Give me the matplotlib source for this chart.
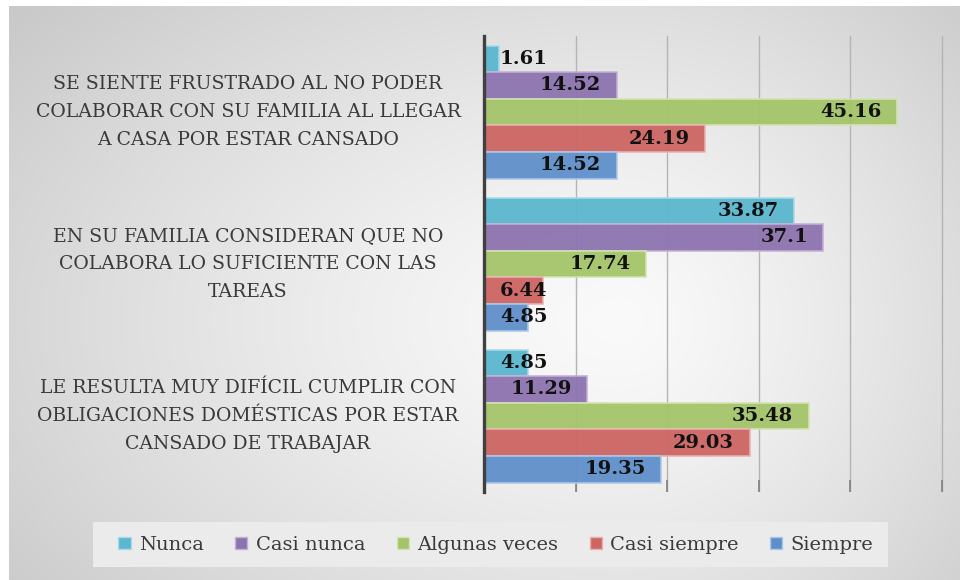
import numpy as np
import matplotlib
matplotlib.use('Agg')
import matplotlib.pyplot as plt
from matplotlib.patches import Patch, Rectangle
from matplotlib.transforms import blended_transform_factory

# 数据
categorias = [
    'SE SIENTE FRUSTRADO AL NO PODER\nCOLABORAR CON SU FAMILIA AL LLEGAR\nA CASA POR ESTAR CANSADO',
    'EN SU FAMILIA CONSIDERAN QUE NO\nCOLABORA LO SUFICIENTE CON LAS\nTAREAS',
    'LE RESULTA MUY DIFÍCIL CUMPLIR CON\nOBLIGACIONES DOMÉSTICAS POR ESTAR\nCANSADO DE TRABAJAR',
]
series = ['Nunca', 'Casi nunca', 'Algunas veces', 'Casi siempre', 'Siempre']
nunca = [1.61, 33.87, 4.85]
casi_nunca = [14.52, 37.1, 11.29]
algunas_veces = [45.16, 17.74, 35.48]
casi_siempre = [24.19, 6.44, 29.03]
siempre = [14.52, 4.85, 19.35]
valores = [nunca, casi_nunca, algunas_veces, casi_siempre, siempre]

colores = ['#5ab7cf', '#8d73af', '#a5c46a', '#cd6562', '#5f8fca']
bordes = ['#a9dbe8', '#c2b1d6', '#d3e4b4', '#e8b2b0', '#afc8e6']

W, H = 960, 580


def fondo(fig):
    """radial gray background"""
    bg = fig.add_axes([9 / W, 0, (W - 9) / W, (H - 6) / H], zorder=-10)
    ys, xs = np.mgrid[0:H - 6, 9:W]
    ys = ys + 6
    cx, cy = 620, 320
    sx = np.where(xs < cx, 650, 420)
    d = np.sqrt(((xs - cx) / sx) ** 2 + ((ys - cy) / 400) ** 2)
    v = 0.98 - 0.15 * np.clip(d, 0, 1.35) ** 1.3
    bg.imshow(np.dstack([v, v, v]), aspect='auto', interpolation='bilinear')
    bg.axis('off')


def main():
    fig = plt.figure(figsize=(W / 100, H / 100), dpi=100, facecolor='white')
    fondo(fig)

    x0, x1 = 484, 946
    y_top, y_bot = 36, 492
    ax = fig.add_axes([x0 / W, (H - y_bot) / H, (x1 - x0) / W, (y_bot - y_top) / H])
    ax.set_facecolor('none')

    px_per_unit = 9.15
    ax.set_xlim(0, (x1 - x0) / px_per_unit)
    ax.set_ylim(2.5, -0.5)

    h = 0.175
    y = np.arange(len(categorias))
    for i, (vals, c, e) in enumerate(zip(valores, colores, bordes)):
        pos = y + (i - 2) * h
        ax.barh(pos, vals, height=h, color=c, edgecolor=e, linewidth=1.2,
                alpha=0.95, zorder=3)
        for p, v in zip(pos, vals):
            if v < 9:
                ax.text(1.75, p, f'{v:g}', ha='left', va='center',
                        fontsize=14, fontweight='bold', family='DejaVu Serif',
                        color='#111111', zorder=5)
            else:
                ax.text(v - 1.7, p, f'{v:g}', ha='right', va='center',
                        fontsize=14, fontweight='bold', family='DejaVu Serif',
                        color='#111111', zorder=5)

    ax.set_xticks([10, 20, 30, 40, 50])
    ax.set_yticks([])
    ax.tick_params(axis='x', direction='in', length=9, width=1.2,
                   color='#808080', labelbottom=False)
    ax.grid(axis='x', color='#b4b4b4', linewidth=1, zorder=0)
    for s in ['top', 'right', 'bottom']:
        ax.spines[s].set_visible(False)
    ax.spines['left'].set_color('#404040')
    ax.spines['left'].set_linewidth(2.4)
    ax.spines['left'].set_zorder(6)

    # 类别标签
    tr = blended_transform_factory(fig.transFigure, ax.transData)
    for yi, cat in zip(y, categorias):
        ax.text(248 / W, yi, cat, transform=tr,
                ha='center', va='center', multialignment='center',
                fontsize=13.6, family='DejaVu Serif', color='#3a3a3a',
                linespacing=1.72)

    # 图例
    fig.patches.append(Rectangle((93 / W, (H - 567) / H), (888 - 93) / W, 45 / H,
                                 transform=fig.transFigure, facecolor='#ebebeb',
                                 edgecolor='none', zorder=1))
    handles = [Patch(facecolor=c, edgecolor=e, linewidth=1) for c, e in zip(colores, bordes)]
    fig.legend(handles, series, loc='center', bbox_to_anchor=(496 / W, (H - 545) / H),
               ncol=5, frameon=False, prop={'family': 'DejaVu Serif', 'size': 14},
               handlelength=0.62, handleheight=0.62, handletextpad=0.45,
               columnspacing=1.6, labelcolor='#3a3a3a')

    fig.savefig('out.png', dpi=100, facecolor='white')


if __name__ == "__main__":
    main()
